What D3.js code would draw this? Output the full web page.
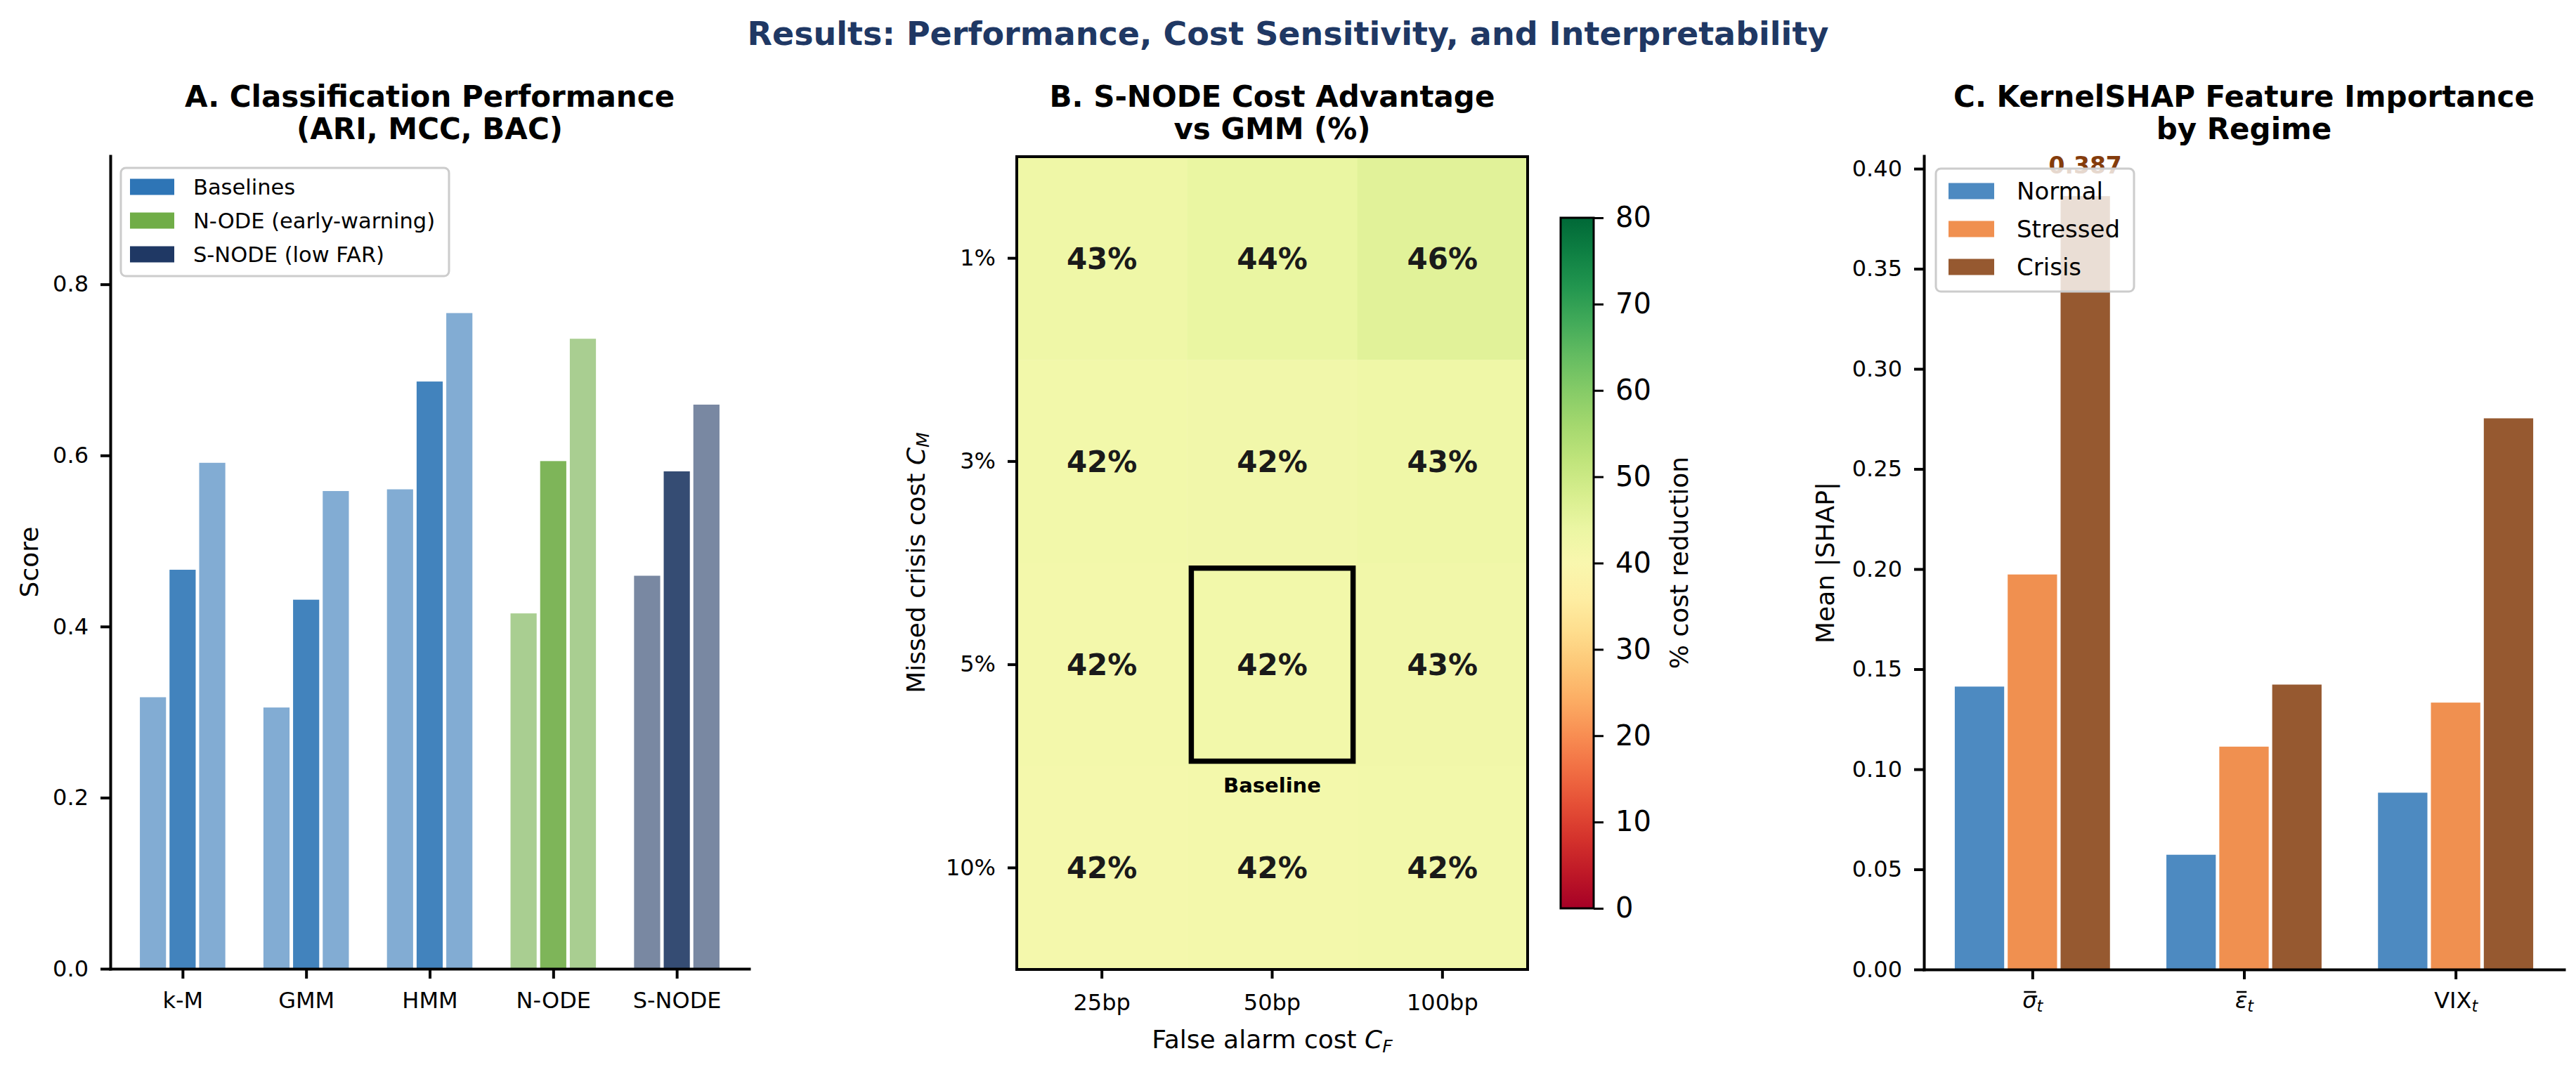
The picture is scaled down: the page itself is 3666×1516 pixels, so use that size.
<!DOCTYPE html>
<html>
<head>
<meta charset="utf-8">
<title>Results: Performance, Cost Sensitivity, and Interpretability</title>
<script src="https://cdnjs.cloudflare.com/ajax/libs/d3/7.8.5/d3.min.js"></script>
<style>
  body { margin: 0; background: #fff; }
  svg { display: block; font-family: "DejaVu Sans", sans-serif; }
</style>
</head>
<body>
<svg id="chart" width="3666" height="1516"></svg>
<script>
// ---- panel A: classification scores ----
var models = ['k-M', 'GMM', 'HMM', 'N-ODE', 'S-NODE'];
var ari = [0.319, 0.307, 0.562, 0.417, 0.461];
var mcc = [0.468, 0.433, 0.688, 0.595, 0.583];
var bac = [0.593, 0.560, 0.768, 0.738, 0.661];
var modelGroup = [0, 0, 0, 1, 2];
var groupNames = ['Baselines', 'N-ODE (early-warning)', 'S-NODE (low FAR)'];
var groupColors = ['#2e75b6', '#70ad47', '#1f3864'];
var scoreTicks = [0, 0.2, 0.4, 0.6, 0.8];

// ---- panel B: cost advantage heatmap ----
var falseAlarmCost = ['25bp', '50bp', '100bp'];
var missedCost = ['1%', '3%', '5%', '10%'];
var costAdvantage = [
  [43.1, 44.2, 46.0],
  [42.2, 42.4, 43.0],
  [41.9, 42.1, 42.6],
  [41.6, 41.9, 42.3]
];
var baselineCell = ['50bp', '5%'];
var cbarTicks = [0, 10, 20, 30, 40, 50, 60, 70, 80];

// ---- panel C: KernelSHAP ----
var features = ['σ', 'ε', 'VIX'];
var featureOverline = [true, true, false];
var regimes = ['Normal', 'Stressed', 'Crisis'];
var shapNormal = [0.142, 0.058, 0.089];
var shapStressed = [0.198, 0.112, 0.134];
var shapCrisis = [0.387, 0.143, 0.276];
var regimeColors = ['#2e75b6', '#ed7d31', '#843c0c'];
var shapTicks = [0, 0.05, 0.10, 0.15, 0.20, 0.25, 0.30, 0.35, 0.40];

var svg = d3.select('#chart');
var FONT = '"DejaVu Sans", sans-serif';

svg.append('rect').attr('width', 3666).attr('height', 1516).attr('fill', '#fff');

function styleAxis(g, fs, sw) {
  g.attr('font-size', fs).attr('font-family', FONT);
  g.select('.domain').attr('stroke', '#000').attr('stroke-width', sw).attr('stroke-linecap', 'square');
  g.selectAll('.tick line').attr('stroke', '#000').attr('stroke-width', sw);
  g.selectAll('.tick text').attr('fill', '#000');
}

function title2(cx, l1, l2) {
  svg.append('text').attr('x', cx).attr('y', 152).attr('text-anchor', 'middle')
    .attr('font-size', 42).attr('font-weight', 'bold').text(l1);
  svg.append('text').attr('x', cx).attr('y', 198).attr('text-anchor', 'middle')
    .attr('font-size', 42).attr('font-weight', 'bold').text(l2);
}

function yLabel(xBase, cy, fs) {
  return svg.append('text').attr('transform', 'translate(' + xBase + ',' + cy + ') rotate(-90)')
    .attr('text-anchor', 'middle').attr('font-size', fs);
}

function subMath(t, sym, sub) {
  t.append('tspan').attr('font-style', 'italic').text(sym);
  t.append('tspan').attr('font-style', 'italic').attr('font-size', '70%').attr('dy', '0.22em').text(sub);
}

// main title
svg.append('text').attr('x', 1833).attr('y', 64).attr('text-anchor', 'middle')
  .attr('font-size', 46).attr('font-weight', 'bold').attr('fill', '#1f3864')
  .text('Results: Performance, Cost Sensitivity, and Interpretability');

// =========== A ===========
var A = { l: 157, r: 1066, t: 222, b: 1379 };
var xA = d3.scaleLinear().domain([-0.585, 4.585]).range([A.l, A.r]);
var yA = d3.scaleLinear().domain([0, 0.95]).range([A.b, A.t]);
var stepA = xA(1) - xA(0);
var metricSets = [ari, mcc, bac];
var metricAlpha = [0.6, 0.9, 0.6];
var offA = [-0.24, 0, 0.24];
var wA = 0.24 * stepA - 5;

var gA = svg.append('g');
metricSets.forEach(function (vals, k) {
  gA.selectAll(null).data(vals).enter().append('rect')
    .attr('x', function (d, i) { return xA(i + offA[k]) - wA / 2; })
    .attr('y', function (d) { return yA(d) + 2; })
    .attr('width', wA)
    .attr('height', function (d) { return yA(0) - yA(d) - 2; })
    .attr('fill', function (d, i) { return groupColors[modelGroup[i]]; })
    .attr('fill-opacity', metricAlpha[k]);
});

var axA_y = svg.append('g').attr('transform', 'translate(' + A.l + ',0)')
  .call(d3.axisLeft(yA).tickValues(scoreTicks).tickFormat(d3.format('.1f')).tickSize(14).tickPadding(17).tickSizeOuter(0));
styleAxis(axA_y, 32, 4);
var axA_x = svg.append('g').attr('transform', 'translate(0,' + A.b + ')')
  .call(d3.axisBottom(xA).tickValues([0, 1, 2, 3, 4]).tickFormat(function (i) { return models[i]; }).tickSize(14).tickSizeOuter(0));
styleAxis(axA_x, 32, 4);
axA_x.selectAll('.tick text').attr('y', 56).attr('dy', null);

yLabel(54, 800, 36).text('Score');
title2((A.l + A.r) / 2, 'A. Classification Performance', '(ARI, MCC, BAC)');

// legend A
var legA = svg.append('g');
legA.append('rect').attr('x', 172).attr('y', 239).attr('width', 467).attr('height', 154)
  .attr('rx', 7).attr('fill', '#fff').attr('fill-opacity', 0.8).attr('stroke', '#cccccc').attr('stroke-width', 3);
groupNames.forEach(function (n, i) {
  var cy = 266 + i * 48;
  legA.append('rect').attr('x', 185).attr('y', cy - 11.5).attr('width', 63).attr('height', 23).attr('fill', groupColors[i]);
  legA.append('text').attr('x', 275).attr('y', cy).attr('dy', '0.36em').attr('font-size', 30.5).text(n);
});

// =========== B ===========
var B = { l: 1447, r: 2174, t: 223, b: 1380 };
var xB = d3.scaleBand().domain(falseAlarmCost).range([B.l, B.r]);
var yB = d3.scaleBand().domain(missedCost).range([B.t, B.b]);
var color = d3.scaleSequential(d3.interpolateRdYlGn).domain([0, 80]);

var cells = [];
missedCost.forEach(function (m, r) {
  falseAlarmCost.forEach(function (f, c) { cells.push({ m: m, f: f, v: costAdvantage[r][c] }); });
});
var gB = svg.append('g');
gB.selectAll('rect.cell').data(cells).enter().append('rect')
  .attr('x', function (d) { return xB(d.f); })
  .attr('y', function (d) { return yB(d.m); })
  .attr('width', xB.bandwidth() + 0.5)
  .attr('height', yB.bandwidth() + 0.5)
  .attr('fill', function (d) { return color(d.v); });
gB.selectAll('text.val').data(cells).enter().append('text')
  .attr('x', function (d) { return xB(d.f) + xB.bandwidth() / 2; })
  .attr('y', function (d) { return yB(d.m) + yB.bandwidth() / 2; })
  .attr('dy', '0.36em').attr('text-anchor', 'middle')
  .attr('font-size', 42).attr('font-weight', 'bold').attr('fill', '#1a1a1a')
  .text(function (d) { return Math.round(d.v) + '%'; });

// baseline box
var bx = xB(baselineCell[0]), by = yB(baselineCell[1]);
var bw = xB.bandwidth(), bh = yB.bandwidth();
gB.append('rect')
  .attr('x', bx + 0.025 * bw).attr('y', by + 0.025 * bh)
  .attr('width', 0.95 * bw).attr('height', 0.95 * bh)
  .attr('fill', 'none').attr('stroke', '#000').attr('stroke-width', 7.5);
gB.append('text').attr('x', bx + bw / 2).attr('y', by + bh + 37)
  .attr('text-anchor', 'middle').attr('font-size', 29).attr('font-weight', 'bold').text('Baseline');

svg.append('rect').attr('x', B.l).attr('y', B.t).attr('width', B.r - B.l).attr('height', B.b - B.t)
  .attr('fill', 'none').attr('stroke', '#000').attr('stroke-width', 4);

var axB_y = svg.append('g').attr('transform', 'translate(' + B.l + ',0)')
  .call(d3.axisLeft(yB).tickSize(13).tickPadding(17).tickSizeOuter(0));
styleAxis(axB_y, 32, 4);
axB_y.select('.domain').remove();
var axB_x = svg.append('g').attr('transform', 'translate(0,' + B.b + ')')
  .call(d3.axisBottom(xB).tickSize(13).tickSizeOuter(0));
styleAxis(axB_x, 32, 4);
axB_x.select('.domain').remove();
axB_x.selectAll('.tick text').attr('y', 58).attr('dy', null);

var yl = yLabel(1316, 801, 36).text('Missed crisis cost ');
subMath(yl, 'C', 'M');
var xl = svg.append('text').attr('x', (B.l + B.r) / 2).attr('y', 1492).attr('text-anchor', 'middle')
  .attr('font-size', 36).text('False alarm cost ');
subMath(xl, 'C', 'F');
title2((B.l + B.r) / 2, 'B. S-NODE Cost Advantage', 'vs GMM (%)');

// colorbar
var CB = { l: 2221, r: 2268, t: 310, b: 1293 };
var cScale = d3.scaleLinear().domain([0, 80]).range([CB.b, CB.t]);
var grad = svg.append('defs').append('linearGradient').attr('id', 'cbgrad')
  .attr('x1', 0).attr('y1', 1).attr('x2', 0).attr('y2', 0);
d3.range(0, 1.0001, 0.05).forEach(function (t) {
  grad.append('stop').attr('offset', t).attr('stop-color', d3.interpolateRdYlGn(t));
});
svg.append('rect').attr('x', CB.l).attr('y', CB.t).attr('width', CB.r - CB.l).attr('height', CB.b - CB.t)
  .attr('fill', 'url(#cbgrad)').attr('stroke', '#000').attr('stroke-width', 3);
var axCB = svg.append('g').attr('transform', 'translate(' + CB.r + ',0)')
  .call(d3.axisRight(cScale).tickValues(cbarTicks).tickSize(14).tickPadding(17).tickSizeOuter(0));
styleAxis(axCB, 40, 3);
axCB.select('.domain').remove();
yLabel(2402, 801, 36).text('% cost reduction');

// =========== C ===========
var C = { l: 2738, r: 3649, t: 222, b: 1380 };
var xC = d3.scaleLinear().domain([-0.5125, 2.5125]).range([C.l, C.r]);
var yC = d3.scaleLinear().domain([0, 0.40635]).range([C.b, C.t]);
var stepC = xC(1) - xC(0);
var wC = 0.25 * stepC - 5;
var shapSets = [shapNormal, shapStressed, shapCrisis];
var offC = [-0.25, 0, 0.25];

var gC = svg.append('g');
shapSets.forEach(function (vals, k) {
  gC.selectAll(null).data(vals).enter().append('rect')
    .attr('x', function (d, i) { return xC(i + offC[k]) - wC / 2; })
    .attr('y', function (d) { return yC(d) + 2; })
    .attr('width', wC)
    .attr('height', function (d) { return yC(0) - yC(d) - 2; })
    .attr('fill', regimeColors[k]).attr('fill-opacity', 0.85);
});

// label on the tallest bar
var maxIdx = d3.maxIndex(shapCrisis);
svg.append('text').attr('x', xC(maxIdx + offC[2])).attr('y', yC(shapCrisis[maxIdx]) - 30)
  .attr('text-anchor', 'middle').attr('font-size', 33).attr('font-weight', 'bold').attr('fill', '#843c0c')
  .text(shapCrisis[maxIdx].toFixed(3));

var axC_y = svg.append('g').attr('transform', 'translate(' + C.l + ',0)')
  .call(d3.axisLeft(yC).tickValues(shapTicks).tickFormat(d3.format('.2f')).tickSize(14).tickPadding(17).tickSizeOuter(0));
styleAxis(axC_y, 32, 4);
var axC_x = svg.append('g').attr('transform', 'translate(0,' + C.b + ')')
  .call(d3.axisBottom(xC).tickValues([0, 1, 2]).tickFormat(function () { return ''; }).tickSize(14).tickSizeOuter(0));
styleAxis(axC_x, 32, 4);
axC_x.selectAll('.tick text').each(function (i) {
  var t = d3.select(this).attr('y', 55).attr('dy', null).text(null);
  var main = t.append('tspan').text(features[i]);
  if (featureOverline[i]) main.attr('font-style', 'italic');
  t.append('tspan').attr('font-style', 'italic').attr('font-size', '70%').attr('dy', '0.22em').text('t');
  if (featureOverline[i]) {
    var ext = this.getExtentOfChar(0);
    d3.select(this.parentNode).append('line')
      .attr('x1', ext.x + 2).attr('x2', ext.x + ext.width - 1)
      .attr('y1', 55 - 23).attr('y2', 55 - 23)
      .attr('stroke', '#000').attr('stroke-width', 2.5);
  }
});

yLabel(2610, 801, 36).text('Mean |SHAP|');
title2((C.l + C.r) / 2, 'C. KernelSHAP Feature Importance', 'by Regime');

// legend C
var legC = svg.append('g');
legC.append('rect').attr('x', 2755).attr('y', 240).attr('width', 282).attr('height', 175)
  .attr('rx', 7).attr('fill', '#fff').attr('fill-opacity', 0.8).attr('stroke', '#cccccc').attr('stroke-width', 3);
regimes.forEach(function (n, i) {
  var cy = 272 + i * 54;
  legC.append('rect').attr('x', 2773).attr('y', cy - 11.5).attr('width', 65).attr('height', 23)
    .attr('fill', regimeColors[i]).attr('fill-opacity', 0.85);
  legC.append('text').attr('x', 2870).attr('y', cy).attr('dy', '0.36em').attr('font-size', 34).text(n);
});
</script>
</body>
</html>
